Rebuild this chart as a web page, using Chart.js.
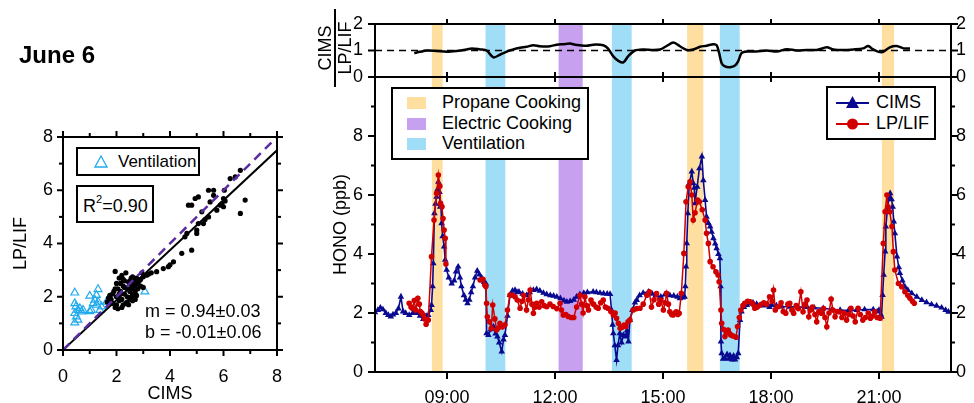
<!DOCTYPE html>
<html><head><meta charset="utf-8">
<script src="https://cdn.jsdelivr.net/npm/chart.js@4.4.1/dist/chart.umd.min.js"></script>
<style>
html,body{margin:0;padding:0;background:#fff;}
body{width:974px;height:403px;position:relative;overflow:hidden;font-family:'Liberation Sans',Arial,sans-serif;color:#000;}
canvas{position:absolute;left:0;top:0;}
.abs{position:absolute;white-space:nowrap;}
.box{position:absolute;box-sizing:border-box;border:2px solid #000;background:#fff;}
</style></head><body>
<canvas id="scatter" width="300" height="403" style="width:300px;height:403px"></canvas>
<canvas id="main" width="974" height="403" style="width:974px;height:403px"></canvas>
<canvas id="ratio" width="974" height="100" style="width:974px;height:100px"></canvas>

<div class="abs" style="left:19px;top:41px;font-weight:bold;font-size:24px;">June 6</div>

<div class="box" style="left:76px;top:147px;width:124px;height:29px;">
  <svg class="abs" style="left:16px;top:6px" width="14" height="13"><polygon points="7,1 13,12 1,12" fill="none" stroke="#22aaee" stroke-width="1.3"/></svg>
  <div class="abs" style="left:40px;top:3px;font-size:17px;">Ventilation</div>
</div>
<div class="box" style="left:76px;top:185px;width:78px;height:38px;">
  <div class="abs" style="left:5px;top:9px;font-size:18px;">R<sup style="font-size:11px;vertical-align:9px;line-height:0">2</sup>=0.90</div>
</div>
<div class="abs" style="left:145px;top:301px;font-size:18px;">m = 0.94±0.03</div>
<div class="abs" style="left:145px;top:322px;font-size:18px;">b = -0.01±0.06</div>

<div class="box" style="left:391px;top:87px;width:198px;height:73px;">
  <div class="abs" style="left:14px;top:8px;width:19px;height:12px;background:#fedfa0"></div>
  <div class="abs" style="left:49px;top:3px;font-size:18px;">Propane Cooking</div>
  <div class="abs" style="left:14px;top:29px;width:19px;height:12px;background:#c8a0f0"></div>
  <div class="abs" style="left:49px;top:24px;font-size:18px;">Electric Cooking</div>
  <div class="abs" style="left:14px;top:49px;width:19px;height:12px;background:#a0def8"></div>
  <div class="abs" style="left:49px;top:44px;font-size:18px;">Ventilation</div>
</div>
<div class="box" style="left:826px;top:86px;width:110px;height:54px;">
  <svg class="abs" style="left:7px;top:6px" width="36" height="44">
    <line x1="1" y1="9" x2="34" y2="9" stroke="#0a0a91" stroke-width="2"/>
    <polygon points="17.5,2 24,14 11,14" fill="#0a0a91"/>
    <line x1="1" y1="30" x2="34" y2="30" stroke="#d00000" stroke-width="2"/>
    <circle cx="17.5" cy="30" r="5.5" fill="#d00000"/>
  </svg>
  <div class="abs" style="left:48px;top:4px;font-size:18px;">CIMS</div>
  <div class="abs" style="left:48px;top:25px;font-size:18px;">LP/LIF</div>
</div>

<div class="abs" style="left:296px;top:29px;width:78px;transform:rotate(-90deg);text-align:center;font-size:18px;line-height:18px;">
  <div style="border-bottom:2px solid #000;padding-bottom:0px;">CIMS</div>
  <div>LP/LIF</div>
</div>

<script>
// ---------------- DATA ----------------
// Scatter (left panel): HONO CIMS vs LP/LIF (ppb)
const scatterCims = [
 1.65,1.70,1.75,1.80,1.85,1.90,1.95,1.95,2.00,2.00,
 2.05,2.05,2.10,2.10,2.15,2.15,2.20,2.20,2.25,2.25,
 2.30,2.30,2.35,2.40,2.40,2.45,2.50,2.50,2.55,2.55,
 2.60,2.60,2.60,2.65,2.65,2.70,2.70,2.75,2.80,2.80,
 2.85,2.90,2.95,3.00,3.00,2.45,2.35,2.10,2.00,1.95,
 2.70,2.20,2.50,2.60,2.75,2.90,1.85,2.30,2.40,2.55,
 3.13,3.30,3.50,3.75,3.94,4.13,4.44,4.81,4.56,4.63,
 5.00,5.00,5.06,5.25,5.44,5.19,5.50,5.63,5.75,6.00,
 6.00,6.03,6.25,6.44,6.63,6.63,6.81,4.69,4.81,4.94,
 5.06,5.63,5.44,5.88,4.00,5.31,5.94,6.06,3.20,2.25];
const scatterLpLif = [
 1.80,1.95,2.05,1.90,2.10,2.20,2.95,1.60,1.70,2.00,
 2.30,1.55,2.10,1.85,2.50,2.20,1.90,2.80,2.40,1.70,
 2.10,2.60,1.75,2.30,2.00,2.55,2.20,1.90,2.45,2.70,
 2.10,2.30,1.85,2.60,2.00,2.40,2.20,2.70,2.50,2.30,
 2.60,2.65,2.90,2.75,2.35,1.70,2.90,2.70,2.50,2.30,
 1.90,1.60,2.60,2.75,2.05,2.40,1.75,2.35,1.80,2.00,
 2.81,2.90,2.94,3.06,3.13,3.31,3.63,3.75,4.25,4.38,
 4.38,4.50,4.75,4.75,5.00,5.19,5.56,5.81,5.25,5.38,
 5.69,6.00,6.44,6.50,6.75,5.13,5.63,5.44,5.44,5.69,
 5.75,6.00,6.00,5.44,3.20,4.90,5.50,5.60,2.85,2.65];
const ventCims  = [0.44,0.44,0.44,0.44,0.50,0.56,0.63,0.75,1.00,1.06,1.19,1.25,1.31,1.31,1.38,1.44,1.25,1.63,3.06,0.48,0.56,0.69,1.13,1.00];
const ventLpLif = [2.15,1.75,1.38,1.03,1.25,1.50,1.56,1.50,2.03,1.50,1.88,1.69,2.28,1.81,1.50,1.63,2.06,1.81,2.19,1.63,1.13,1.44,1.75,1.45];
const fitX = [0, 8], fitY = [0, 7.5];
const oneToOneX = [0, 8], oneToOneY = [0, 8];
const scatterTicks = [0, 2, 4, 6, 8];
const scatterMinorTicks = [1, 3, 5, 7];

// Time series (hours of day)
const cimsTime = [7.00,7.08,7.15,7.22,7.30,7.37,7.44,7.50,7.58,7.65,7.72,7.78,7.85,7.95,8.05,8.16,8.25,8.34,8.42,8.48,
 8.55,8.57,8.60,8.62,8.65,8.68,8.71,8.74,8.76,8.79,8.81,8.83,8.85,8.88,8.92,8.95,8.99,9.05,9.13,9.20,
 9.25,9.31,9.36,9.40,9.47,9.52,9.57,9.62,9.67,9.72,9.78,9.84,9.90,9.96,10.03,10.08,10.10,10.15,10.22,10.29,
 10.35,10.40,10.45,10.52,10.57,10.61,10.68,10.75,10.82,10.89,10.95,11.00,11.10,11.21,11.30,11.40,11.49,11.58,11.68,11.77,
 11.87,11.96,12.05,12.15,12.25,12.33,12.42,12.52,12.60,12.69,12.80,12.90,13.06,13.15,13.25,13.35,13.45,13.53,13.57,13.60,
 13.62,13.66,13.71,13.75,13.80,13.85,13.90,13.96,14.00,14.04,14.08,14.15,14.22,14.27,14.35,14.45,14.60,14.70,14.80,14.94,
 15.05,15.19,15.30,15.40,15.47,15.55,15.60,15.62,15.64,15.66,15.69,15.73,15.80,15.84,15.87,15.89,15.95,16.01,16.08,16.12,
 16.17,16.21,16.26,16.31,16.35,16.40,16.45,16.49,16.54,16.58,16.60,16.61,16.63,16.67,16.72,16.78,16.83,16.86,16.92,16.96,
 17.00,17.05,17.09,17.14,17.18,17.25,17.33,17.42,17.50,17.60,17.70,17.80,17.96,18.02,18.15,18.30,18.53,18.75,19.00,19.20,
 19.45,19.70,19.92,20.15,20.38,20.60,20.84,20.95,21.00,21.05,21.07,21.10,21.13,21.17,21.19,21.24,21.28,21.31,21.35,21.38,
 21.41,21.44,21.50,21.55,21.58,21.65,21.72,21.80,21.91,22.05,22.19,22.32,22.46,22.60,22.74,22.85,22.93];
const cimsHono = [2.02,2.10,2.18,2.12,2.00,1.93,1.88,1.95,2.00,2.15,2.55,2.05,2.00,1.93,2.00,2.00,1.90,1.79,1.90,1.93,
 2.10,2.27,2.90,3.68,5.38,5.70,5.94,6.20,6.45,6.10,5.60,5.70,5.04,4.60,4.25,3.80,3.46,3.20,3.00,3.10,
 3.40,3.57,3.20,2.90,2.60,2.45,2.33,2.45,2.70,2.90,3.20,3.43,3.30,3.20,3.05,3.00,1.31,1.25,1.45,1.54,
 1.30,1.20,1.00,0.69,1.10,1.25,1.90,2.61,2.75,2.78,2.70,2.72,2.65,2.60,2.70,2.78,2.80,2.75,2.68,2.63,
 2.60,2.58,2.55,2.50,2.42,2.38,2.40,2.45,2.55,2.63,2.68,2.70,2.72,2.70,2.68,2.66,2.65,2.64,2.10,1.60,
 1.31,0.90,0.40,0.90,1.31,1.00,1.25,1.20,1.40,1.03,1.76,2.10,2.35,2.44,2.60,2.68,2.72,2.65,2.60,2.55,
 2.62,2.60,2.58,2.55,2.50,2.52,2.55,2.90,3.57,4.36,5.38,6.39,6.79,6.40,6.24,5.72,6.28,6.90,7.30,6.50,
 5.83,5.26,5.05,4.93,4.75,4.53,4.35,4.19,4.00,3.85,2.90,1.03,0.63,0.45,0.46,0.60,0.45,0.57,0.42,0.55,
 0.42,0.50,0.63,1.76,2.05,2.20,2.27,2.32,2.35,2.30,2.27,2.25,2.20,2.27,2.25,2.22,2.21,2.20,2.20,2.18,
 2.16,2.12,2.10,2.08,2.10,2.12,2.12,2.05,2.10,1.95,1.87,2.61,3.29,4.08,4.93,5.60,5.90,6.06,5.85,5.60,
 5.10,4.70,3.91,3.55,3.35,3.10,2.89,2.78,2.67,2.55,2.44,2.36,2.29,2.24,2.18,2.10,2.04];

const lpTime = [7.95,8.00,8.04,8.09,8.13,8.19,8.23,8.26,8.30,8.34,8.38,8.42,8.48,8.57,8.64,8.71,8.76,8.80,8.82,8.86,
 8.89,8.92,8.95,8.97,9.40,9.92,10.00,10.05,10.08,10.10,10.12,10.18,10.23,10.27,10.33,10.38,10.43,10.47,10.54,10.61,
 10.68,10.75,10.82,10.89,10.95,11.03,11.08,11.13,11.21,11.26,11.31,11.36,11.40,11.45,11.49,11.56,11.63,11.70,11.77,11.86,
 11.95,12.05,12.14,12.18,12.23,12.30,12.37,12.45,12.52,12.60,12.69,12.74,12.78,12.83,12.88,12.93,13.00,13.07,13.14,13.20,
 13.27,13.34,13.40,13.47,13.55,13.62,13.67,13.71,13.76,13.81,13.86,13.92,13.97,14.03,14.08,14.17,14.27,14.36,14.45,14.55,
 14.62,14.68,14.75,14.82,14.88,14.94,15.01,15.06,15.10,15.15,15.19,15.24,15.28,15.33,15.37,15.41,15.45,15.51,15.58,15.64,
 15.70,15.75,15.80,15.84,15.89,15.96,16.01,16.09,16.17,16.21,16.26,16.31,16.39,16.47,16.53,16.56,16.61,16.63,16.68,16.72,
 16.77,16.81,16.85,16.89,16.95,17.03,17.07,17.12,17.16,17.22,17.27,17.35,17.42,17.50,17.55,17.62,17.70,17.80,17.88,17.96,
 18.03,18.07,18.12,18.20,18.28,18.34,18.41,18.47,18.52,18.58,18.63,18.70,18.76,18.83,18.89,18.95,19.00,19.05,19.10,19.15,
 19.22,19.27,19.33,19.40,19.46,19.50,19.55,19.61,19.67,19.72,19.78,19.84,19.90,19.97,20.03,20.10,20.16,20.22,20.28,20.34,
 20.42,20.48,20.55,20.62,20.70,20.76,20.82,20.88,20.95,21.03,21.12,21.17,21.22,21.25,21.30,21.36,21.40,21.44,21.54,21.63,
 21.72,21.80,21.86,21.93,21.98];
const lpHono = [2.33,2.20,2.16,2.42,2.10,2.50,2.30,2.05,2.00,1.93,1.80,1.62,1.76,3.91,5.15,6.06,6.68,6.30,5.72,5.60,
 5.20,4.81,4.53,3.66,null,3.12,3.14,2.95,2.90,2.33,1.87,1.70,1.48,2.27,1.80,1.42,1.50,1.65,1.53,1.60,
 2.10,2.61,2.60,2.55,2.44,2.16,2.40,2.60,2.10,2.45,2.78,2.30,1.99,2.20,2.33,2.20,2.38,2.25,2.21,2.30,
 2.22,2.15,2.33,2.10,1.93,1.95,1.88,1.85,1.85,2.20,2.60,2.30,2.00,2.55,2.25,2.10,2.44,2.30,2.20,2.16,
 2.35,2.44,2.20,2.16,2.05,1.93,2.00,1.82,1.65,1.48,1.52,1.59,1.54,1.70,1.76,2.10,2.15,2.16,2.30,2.60,
 2.72,2.20,2.45,2.66,2.30,2.44,2.10,2.35,2.67,2.30,2.04,1.95,1.93,2.00,2.04,1.95,1.99,2.67,4.02,5.77,
 6.28,6.45,6.00,5.15,5.40,5.83,5.77,5.50,5.15,4.70,4.36,3.74,3.57,3.40,3.29,3.06,2.10,1.65,1.45,1.20,
 1.35,1.42,1.30,1.25,1.22,1.18,1.54,1.85,2.10,2.25,2.33,2.40,2.38,2.30,2.16,2.20,2.27,2.35,2.30,2.55,
 2.40,2.78,2.10,2.21,2.35,2.05,1.99,2.30,2.33,2.10,1.99,2.25,2.15,2.72,2.04,2.30,2.44,1.87,2.10,2.20,
 1.95,1.70,2.05,1.99,2.15,1.85,1.53,2.00,2.47,2.10,1.87,2.05,2.04,1.85,2.00,1.76,1.95,2.16,1.90,1.70,
 2.16,1.95,1.76,1.85,2.00,1.82,1.90,2.04,1.85,1.82,4.36,5.43,6.00,5.60,5.43,4.93,4.08,3.46,3.00,2.89,
 2.72,2.60,2.50,2.40,2.33];

const ratioTime = [8.09,8.25,8.44,8.71,8.99,9.27,9.55,9.69,9.92,10.10,10.29,10.47,10.66,10.84,11.03,11.21,11.40,11.58,11.86,12.05,
 12.23,12.42,12.56,12.69,12.88,13.06,13.34,13.47,13.62,13.76,13.90,14.03,14.22,14.45,14.73,14.92,15.10,15.29,15.47,15.66,
 15.84,16.03,16.21,16.40,16.49,16.56,16.63,16.72,16.86,17.00,17.09,17.18,17.33,17.60,17.88,18.16,18.44,18.71,18.99,19.27,
 19.55,19.73,20.01,20.29,20.56,20.70,20.84,21.07,21.30,21.49,21.68,21.86];
const ratioValue = [0.90,0.95,1.00,0.98,0.95,0.98,1.04,1.08,1.04,1.00,0.74,0.84,0.96,1.04,1.10,1.14,1.20,1.16,1.16,1.22,
 1.24,1.26,1.22,1.20,1.18,1.22,1.20,1.08,0.78,0.61,0.55,0.78,1.00,1.04,1.02,1.04,1.17,1.30,1.16,1.02,
 1.04,1.14,1.18,1.24,1.20,0.90,0.52,0.40,0.37,0.43,0.60,0.90,0.96,0.96,1.00,0.96,1.05,1.00,1.02,1.02,
 1.12,1.04,1.02,1.04,1.08,1.17,1.04,0.93,1.12,1.17,1.08,1.08];
const refLineX = [7, 23], refLineY = [1, 1];

// Activity periods (hours)
const shadeStart = [8.58, 15.67, 21.08, 10.07, 13.58, 16.58, 12.10];
const shadeEnd   = [8.88, 16.12, 21.42, 10.62, 14.13, 17.13, 12.77];
const shadeKind  = ['Propane Cooking','Propane Cooking','Propane Cooking','Ventilation','Ventilation','Ventilation','Electric Cooking'];
const shadeColors = {'Propane Cooking':'#fedfa0','Electric Cooking':'#c8a0f0','Ventilation':'#a0def8'};

const timeTicks = [9, 12, 15, 18, 21];
const timeLabels = ['09:00','12:00','15:00','18:00','21:00'];
const honoTicks = [0, 2, 4, 6, 8];
const honoAllTicks = [0, 2, 4, 6, 8, 10];
const honoMinorTicks = [1, 3, 5, 7, 9];
const ratioTicks = [0, 1, 2];

// ---------------- DRAWING ----------------
Chart.defaults.font.family = "'Liberation Sans', Arial, sans-serif";
Chart.defaults.color = '#000';
Chart.defaults.animation = false;

const pts = (xs, ys) => xs.map((x, i) => ({x, y: ys[i]}));
const fixTicks = vals => (s => { s.ticks = vals.map(v => ({value: v})); });

const framePlugin = {
  id: 'frameTicks',
  afterDraw(chart, args, o) {
    const {ctx, chartArea: a} = chart;
    ctx.save();
    ctx.strokeStyle = '#000';
    ctx.lineWidth = 2;
    ctx.lineCap = 'square';
    ctx.strokeRect(a.left, a.top, a.right - a.left, a.bottom - a.top);
    ctx.lineCap = 'butt';
    (o.ticks || []).forEach(t => {
      const s = chart.scales[t.scale];
      t.values.forEach(v => {
        const p = s.getPixelForValue(v);
        const i = t.in || 0;
        ctx.beginPath();
        if (t.side === 'left') { ctx.moveTo(a.left - t.out, p); ctx.lineTo(a.left + i, p); }
        else if (t.side === 'right') { ctx.moveTo(a.right + t.out, p); ctx.lineTo(a.right - i, p); }
        else if (t.side === 'bottom') { ctx.moveTo(p, a.bottom + t.out); ctx.lineTo(p, a.bottom - i); }
        else { ctx.moveTo(p, a.top - t.out); ctx.lineTo(p, a.top + i); }
        ctx.stroke();
      });
    });
    ctx.restore();
  }
};
const shadePlugin = {
  id: 'shade',
  beforeDatasetsDraw(chart) {
    const {ctx, chartArea: a} = chart;
    const x = chart.scales.x;
    ctx.save();
    shadeStart.forEach((s, i) => {
      const x0 = x.getPixelForValue(s), x1 = x.getPixelForValue(shadeEnd[i]);
      ctx.fillStyle = shadeColors[shadeKind[i]];
      ctx.fillRect(x0, a.top, x1 - x0, a.bottom - a.top);
    });
    ctx.restore();
  }
};

// Scatter chart
new Chart(document.getElementById('scatter'), {
  type: 'scatter',
  data: { datasets: [
    { label: '1:1', data: pts(oneToOneX, oneToOneY), showLine: true, borderColor: '#5b2ca0', borderWidth: 2.5, borderDash: [9, 6], pointRadius: 0, order: 1 },
    { label: 'Fit', data: pts(fitX, fitY), showLine: true, borderColor: '#000', borderWidth: 2, pointRadius: 0, order: 2 },
    { label: 'Data', data: pts(scatterCims, scatterLpLif), pointRadius: 2.6, pointBackgroundColor: '#000', pointBorderColor: '#000', pointBorderWidth: 0, order: 3 },
    { label: 'Ventilation', data: pts(ventCims, ventLpLif), pointStyle: 'triangle', pointRadius: 4.5, pointBackgroundColor: 'rgba(0,0,0,0)', pointBorderColor: '#22aaee', pointBorderWidth: 1.2, order: 4 }
  ]},
  options: {
    responsive: false, animation: false,
    layout: { padding: { left: 0, top: 137, right: 23, bottom: 0 } },
    plugins: { legend: { display: false }, tooltip: { enabled: false },
      frameTicks: { ticks: [
        { scale: 'x', side: 'bottom', values: scatterTicks, out: 6 },
        { scale: 'x', side: 'bottom', values: scatterMinorTicks, out: 4 },
        { scale: 'x', side: 'top', values: scatterTicks, out: 6 },
        { scale: 'x', side: 'top', values: scatterMinorTicks, out: 4 },
        { scale: 'y', side: 'left', values: scatterTicks, out: 6 },
        { scale: 'y', side: 'left', values: scatterMinorTicks, out: 4 },
        { scale: 'y', side: 'right', values: scatterTicks, out: 6 },
        { scale: 'y', side: 'right', values: scatterMinorTicks, out: 4 }
      ]}},
    scales: {
      x: { type: 'linear', min: 0, max: 8, afterBuildTicks: fixTicks(scatterTicks), afterFit: s => { s.height = 53; },
           grid: { display: false, drawTicks: false }, border: { display: false },
           ticks: { font: { size: 18 }, padding: 16, maxRotation: 0 },
           title: { display: true, text: 'CIMS', font: { size: 18, lineHeight: 1 }, padding: { top: 0, bottom: 0 } } },
      y: { type: 'linear', min: 0, max: 8, afterBuildTicks: fixTicks(scatterTicks), afterFit: s => { s.width = 63; },
           grid: { display: false, drawTicks: false }, border: { display: false },
           ticks: { font: { size: 18 }, padding: 10 },
           title: { display: true, text: 'LP/LIF', font: { size: 18, lineHeight: 1 }, padding: { top: 12, bottom: 0 } } }
    }
  },
  plugins: [framePlugin]
});

// Main HONO time series
new Chart(document.getElementById('main'), {
  type: 'line',
  data: { datasets: [
    { label: 'CIMS', data: pts(cimsTime, cimsHono), borderColor: '#0a0a91', backgroundColor: '#0a0a91', borderWidth: 1.6,
      pointStyle: 'triangle', pointRadius: 3.8, pointBorderWidth: 0, pointBackgroundColor: '#0a0a91', tension: 0, order: 2 },
    { label: 'LP/LIF', data: pts(lpTime, lpHono), borderColor: '#d00000', backgroundColor: '#d00000', borderWidth: 1.5,
      pointStyle: 'circle', pointRadius: 2.8, pointBorderWidth: 0, pointBackgroundColor: '#d00000', spanGaps: false, tension: 0, order: 1 }
  ]},
  options: {
    responsive: false, animation: false,
    layout: { padding: { left: 330, top: 77, right: 0, bottom: 0 } },
    plugins: { legend: { display: false }, tooltip: { enabled: false },
      frameTicks: { ticks: [
        { scale: 'x', side: 'bottom', values: timeTicks, out: 7 },
        { scale: 'x', side: 'top', values: timeTicks, out: 0, in: 5 },
        { scale: 'y', side: 'left', values: honoAllTicks, out: 7 },
        { scale: 'y', side: 'left', values: honoMinorTicks, out: 4 },
        { scale: 'y', side: 'right', values: honoAllTicks, out: 7 },
        { scale: 'y', side: 'right', values: honoMinorTicks, out: 4 }
      ]}},
    scales: {
      x: { type: 'linear', min: 7, max: 23, afterBuildTicks: fixTicks(timeTicks), afterFit: s => { s.height = 31; },
           grid: { display: false, drawTicks: false }, border: { display: false },
           ticks: { font: { size: 18 }, padding: 15, maxRotation: 0, callback: (v, i) => timeLabels[i] } },
      y: { type: 'linear', position: 'left', min: 0, max: 10, afterBuildTicks: fixTicks(honoTicks), afterFit: s => { s.width = 45; },
           grid: { display: false, drawTicks: false }, border: { display: false },
           ticks: { font: { size: 18 }, padding: 12 },
           title: { display: true, text: 'HONO (ppb)', font: { size: 18, lineHeight: 1 }, padding: { top: 2, bottom: 0 } } },
      y2: { type: 'linear', position: 'right', min: 0, max: 10, afterBuildTicks: fixTicks(honoTicks), afterFit: s => { s.width = 23; },
           grid: { display: false, drawTicks: false }, border: { display: false },
           ticks: { font: { size: 18 }, padding: 5 } }
    }
  },
  plugins: [shadePlugin, framePlugin]
});

// Ratio panel
new Chart(document.getElementById('ratio'), {
  type: 'line',
  data: { datasets: [
    { label: '1', data: pts(refLineX, refLineY), borderColor: '#000', borderWidth: 1.6, borderDash: [7, 5], pointRadius: 0, order: 2 },
    { label: 'CIMS / LP/LIF', data: pts(ratioTime, ratioValue), borderColor: '#000', borderWidth: 2.5, pointRadius: 0, tension: 0.3, order: 1 }
  ]},
  options: {
    responsive: false, animation: false,
    layout: { padding: { left: 330, top: 24, right: 0, bottom: 23 } },
    plugins: { legend: { display: false }, tooltip: { enabled: false },
      frameTicks: { ticks: [
        { scale: 'x', side: 'top', values: timeTicks, out: 5 },
        { scale: 'x', side: 'bottom', values: timeTicks, out: 0, in: 5 },
        { scale: 'y', side: 'left', values: ratioTicks, out: 7 },
        { scale: 'y', side: 'right', values: ratioTicks, out: 7 }
      ]}},
    scales: {
      x: { type: 'linear', min: 7, max: 23, display: false },
      y: { type: 'linear', position: 'left', min: 0, max: 2, afterBuildTicks: fixTicks(ratioTicks), afterFit: s => { s.width = 45; },
           grid: { display: false, drawTicks: false }, border: { display: false },
           ticks: { font: { size: 18 }, padding: 12 } },
      y2: { type: 'linear', position: 'right', min: 0, max: 2, afterBuildTicks: fixTicks(ratioTicks), afterFit: s => { s.width = 23; },
           grid: { display: false, drawTicks: false }, border: { display: false },
           ticks: { font: { size: 18 }, padding: 5 } }
    }
  },
  plugins: [shadePlugin, framePlugin]
});
</script>
</body></html>
